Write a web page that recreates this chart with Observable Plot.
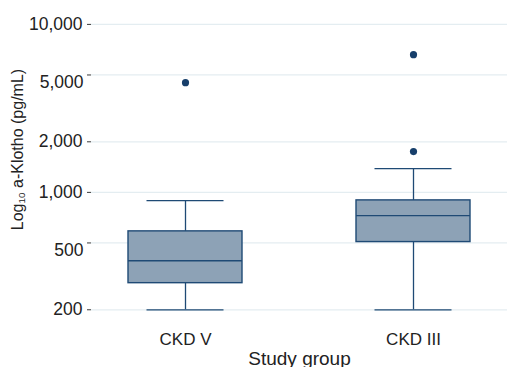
<!DOCTYPE html>
<html>
<head>
<meta charset="utf-8">
<script src="https://cdn.jsdelivr.net/npm/d3@7"></script>
<script src="https://cdn.jsdelivr.net/npm/@observablehq/plot@0.6"></script>
<style>
  html, body { margin: 0; padding: 0; background: #fff; }
</style>
</head>
<body>
<div id="chart"></div>
<script>
// Data (pg/mL)
const groups = ["CKD V", "CKD III"];
const lowerWhisker = [200, 200];
const q1 = [288, 506];
const median = [392, 727];
const q3 = [586, 896];
const upperWhisker = [893, 1384];
const outlierGroup = ["CKD V", "CKD III", "CKD III"];
const outlierValue = [4500, 6600, 1750];
const yTicks = [200, 500, 1000, 2000, 5000, 10000];
const yTicksShifted = [500, 5000];
const yTicksPlain = [200, 1000, 2000, 10000];

const boxes = groups.map((g, i) => ({
  group: g, lo: lowerWhisker[i], q1: q1[i], med: median[i], q3: q3[i], hi: upperWhisker[i]
}));
const outliers = outlierGroup.map((g, i) => ({group: g, value: outlierValue[i]}));

const navy = "#1f4a75";
const fill = "#8da2b6";
const axisColor = "#3a3a3a";
const fmt = d3.format(",");
const LABEL = "Log10 a-Klotho (pg/mL)";
const XLABEL = "Study group";

const chart = Plot.plot({
  width: 510,
  height: 367,
  marginLeft: 91,
  marginRight: 3,
  marginTop: 10,
  marginBottom: 45,
  style: {fontFamily: "Helvetica, Arial, 'Liberation Sans', sans-serif", fontSize: "17px", color: "#222", background: "#fff"},
  x: {domain: groups, paddingInner: 0.5, paddingOuter: 0.16},
  y: {type: "log", domain: [168, 12100]},
  marks: [
    Plot.gridY(yTicks, {stroke: "#e4edf1", strokeOpacity: 1, strokeWidth: 1.2}),
    Plot.axisY(yTicksPlain, {tickSize: 4, tickPadding: 5, tickFormat: fmt, stroke: axisColor, fontSize: 17.5,
      label: LABEL, labelArrow: "none", labelAnchor: "center", labelOffset: 80}),
    Plot.axisY(yTicksShifted, {tickSize: 4, text: null, stroke: axisColor, label: null}),
    Plot.text(yTicksShifted, {y: d => d, text: d => fmt(d), frameAnchor: "left", textAnchor: "end", dx: -8, dy: 7, fontSize: 17.5, fill: "#222"}),
    Plot.axisX({tickSize: 0, tickPadding: 10, fontSize: 17, label: XLABEL, labelArrow: "none", labelAnchor: "center", labelOffset: 42}),
    // whiskers
    Plot.ruleX(boxes, {x: "group", y1: "lo", y2: "q1", stroke: navy, strokeWidth: 1.3}),
    Plot.ruleX(boxes, {x: "group", y1: "q3", y2: "hi", stroke: navy, strokeWidth: 1.3}),
    Plot.tickY(boxes, {x: "group", y: "lo", stroke: navy, strokeWidth: 1.3, insetLeft: 18.5, insetRight: 18.5}),
    Plot.tickY(boxes, {x: "group", y: "hi", stroke: navy, strokeWidth: 1.3, insetLeft: 18.5, insetRight: 18.5}),
    // boxes
    Plot.barY(boxes, {x: "group", y1: "q1", y2: "q3", fill: fill, stroke: navy, strokeWidth: 1.4}),
    Plot.tickY(boxes, {x: "group", y: "med", stroke: navy, strokeWidth: 1.4}),
    // outliers
    Plot.dot(outliers, {x: "group", y: "value", r: 3.6, fill: "#173f6b", stroke: "none"}),
    // axis lines
    Plot.axisY({ticks: [], tickSize: 0, line: true, stroke: axisColor, strokeWidth: 1.3, label: null}),
    Plot.axisX({ticks: [], tickSize: 0, line: true, stroke: axisColor, strokeWidth: 1.5, label: null})
  ]
});

document.getElementById("chart").appendChild(chart);

// subscript "10" in the y-axis label, move it up as in the reference; larger x title
d3.select(chart).selectAll("text").each(function() {
  if (this.textContent.startsWith("Log10")) {
    const t = d3.select(this);
    t.text(null);
    t.attr("dx", 17).attr("font-size", 16);
    t.append("tspan").text("Log");
    t.append("tspan").attr("font-size", "0.62em").attr("baseline-shift", "-0.25em").text("10");
    t.append("tspan").text(" a-Klotho (pg/mL)");
  } else if (this.textContent === XLABEL) {
    d3.select(this).attr("font-size", 19);
  }
});
</script>
</body>
</html>
